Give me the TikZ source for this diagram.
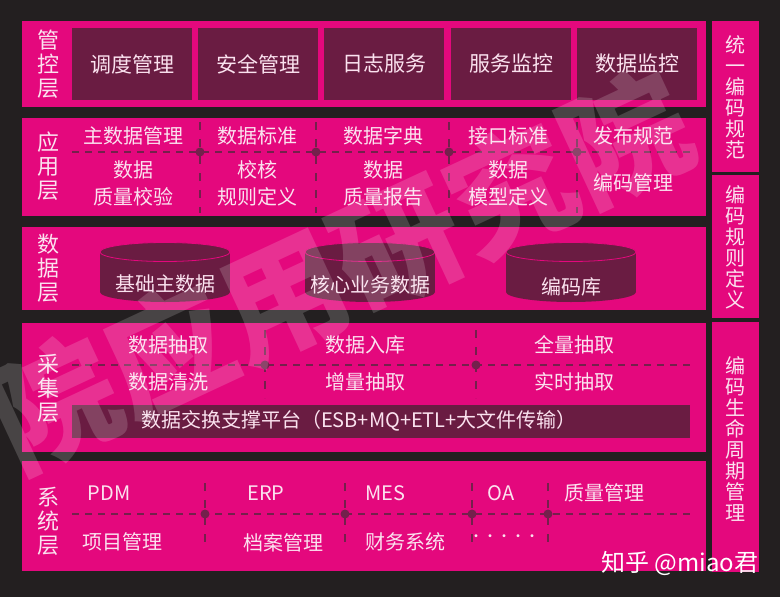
\documentclass[tikz,border=0pt]{standalone}
\usepackage{fontspec}
\setmainfont{Noto Sans CJK SC}
\usetikzlibrary{positioning}
\definecolor{bg}{HTML}{231F20}
\definecolor{pk}{HTML}{E4087D}
\definecolor{mr}{HTML}{6A1C42}
\definecolor{dk}{HTML}{74204C}
\definecolor{tx}{HTML}{FBE2EF}
\newcommand\myfs[2]{\fontsize{#1}{#2}\selectfont}
\begin{document}
\begin{tikzpicture}[x=1pt,y=-1pt,
  band/.style={fill=pk, draw=none, inner sep=0pt, outer sep=0pt, anchor=north west},
  ibox/.style={fill=mr, draw=none, inner sep=0pt, outer sep=0pt, anchor=north west,
    minimum width=120pt, minimum height=72pt, text=tx, font=\myfs{21}{24}},
  vlbl/.style={text=tx, align=center, inner sep=0pt, font=\myfs{22}{24}},
  rlbl/.style={text=tx, align=center, inner sep=0pt, font=\myfs{20}{21}},
  lbl/.style={text=tx, align=center, inner sep=0pt, font=\myfs{20}{27}},
  dline/.style={draw=dk, line width=1.6pt, dash pattern=on 7pt off 6pt},
  vline/.style={draw=dk, line width=1.4pt, dash pattern=on 8pt off 9pt},
  dotn/.style={circle, fill=dk, draw=none, inner sep=0pt, minimum size=9pt},
  cylbody/.style={fill=mr, draw=none},
  cyltop/.style={fill=mr, draw=pk, line width=0.8pt}]
\fill[bg] (0,0) rectangle (780,597);
\useasboundingbox (0,0) rectangle (780,597);

% ---------- bands ----------
\node[band, minimum width=684pt, minimum height=86pt]  (b1) at (22,21)  {};
\node[band, minimum width=684pt, minimum height=98pt]  (b2) at (22,118) {};
\node[band, minimum width=684pt, minimum height=83pt]  (b3) at (22,227) {};
\node[band, minimum width=684pt, minimum height=129pt] (b4) at (22,323) {};
\node[band, minimum width=684pt, minimum height=110pt] (b5) at (22,461) {};
\node[band, minimum width=47pt, minimum height=151pt] (r1) at (712,21)  {};
\node[band, minimum width=47pt, minimum height=143pt] (r2) at (712,175) {};
\node[band, minimum width=47pt, minimum height=250pt] (r3) at (712,322) {};

% ---------- left labels ----------
\node[vlbl] (l1) at (48,64)  {管\\控\\层};
\node[vlbl] (l2) at (48,166) {应\\用\\层};
\node[vlbl] (l3) at (48,268) {数\\据\\层};
\node[vlbl] (l4) at (48,388) {采\\集\\层};
\node[vlbl] (l5) at (48,521) {系\\统\\层};

% ---------- right labels ----------
\node[rlbl] (rt1) at (735,97)  {统\\一\\编\\码\\规\\范};
\node[rlbl] (rt2) at (735,247) {编\\码\\规\\则\\定\\义};
\node[rlbl] (rt3) at (735,439) {编\\码\\生\\命\\周\\期\\管\\理};

% ---------- control layer ----------
\node[ibox] (c1) at (72,28)  {调度管理};
\node[ibox] (c2) at (198,28) {安全管理};
\node[ibox] (c3) at (324,28) {日志服务};
\node[ibox] (c4) at (451,28) {服务监控};
\node[ibox] (c5) at (577,28) {数据监控};

% ---------- application layer ----------
\coordinate (h2l) at (72,152);
\coordinate (h2r) at (690,152);
\draw[dline] (h2l) -- (h2r);
\foreach \x/\n in {200/1,316/2,449/3,577/4}{
  \coordinate (v2t\n) at (\x,122);
  \coordinate (v2b\n) at (\x,213);
  \draw[vline] (v2t\n) -- (v2b\n);
  \node[dotn] (d2\n) at (\x,152) {};
}
\node[lbl] (a1) at (133,136) {主数据管理};
\node[lbl] (a2) at (257,136) {数据标准};
\node[lbl] (a3) at (383,136) {数据字典};
\node[lbl] (a4) at (508,136) {接口标准};
\node[lbl] (a5) at (633,136) {发布规范};
\node[lbl] (a6) at (133,183) {数据\\质量校验};
\node[lbl] (a7) at (257,183) {校核\\规则定义};
\node[lbl] (a8) at (383,183) {数据\\质量报告};
\node[lbl] (a9) at (508,183) {数据\\模型定义};
\node[lbl] (a10) at (633,183) {编码管理};

% ---------- data layer ----------
\foreach \cx/\n in {165/1,370/2,571/3}{
  \fill[cylbody] (\cx-65,252) rectangle (\cx+65,292);
  \fill[cylbody] (\cx,292) ellipse [x radius=65, y radius=10];
  \filldraw[cyltop] (\cx,252) ellipse [x radius=65, y radius=9.5];
}
\node[lbl] (db1) at (165,284) {基础主数据};
\node[lbl] (db2) at (370,285) {核心业务数据};
\node[lbl] (db3) at (571,287) {编码库};

% ---------- collection layer ----------
\coordinate (h4l) at (72,365);
\coordinate (h4r) at (690,365);
\draw[dline] (h4l) -- (h4r);
\foreach \x/\n in {265/1,476/2}{
  \coordinate (v4t\n) at (\x,330);
  \coordinate (v4b\n) at (\x,398);
  \draw[vline] (v4t\n) -- (v4b\n);
  \node[dotn] (d4\n) at (\x,365) {};
}
\node[lbl] (g1) at (168,345) {数据抽取};
\node[lbl] (g2) at (365,345) {数据入库};
\node[lbl] (g3) at (574,345) {全量抽取};
\node[lbl] (g4) at (168,382) {数据清洗};
\node[lbl] (g5) at (365,382) {增量抽取};
\node[lbl] (g6) at (574,382) {实时抽取};
\node[fill=mr, inner sep=0pt, anchor=north west, minimum width=618pt, minimum height=33pt] (bar) at (72,405) {};
\node[lbl] (bart) at (359,421) {数据交换支撑平台（ESB+MQ+ETL+大文件传输）};

% ---------- system layer ----------
\coordinate (h5l) at (72,514);
\coordinate (h5r) at (690,514);
\draw[dline] (h5l) -- (h5r);
\foreach \x/\n in {205/1,345/2,472/3,548/4}{
  \coordinate (v5t\n) at (\x,483);
  \coordinate (v5b\n) at (\x,550);
  \draw[vline] (v5t\n) -- (v5b\n);
  \node[dotn] (d5\n) at (\x,514) {};
}
\node[lbl] (s1) at (109,493) {PDM};
\node[lbl] (s2) at (266,493) {ERP};
\node[lbl] (s3) at (385,493) {MES};
\node[lbl] (s4) at (501,493) {OA};
\node[lbl] (s5) at (604,493) {质量管理};
\node[lbl] (s6) at (122,542) {项目管理};
\node[lbl] (s7) at (283,543) {档案管理};
\node[lbl] (s8) at (405,542) {财务系统};
\node[lbl, font=\myfs{14}{14}] (s9) at (504,538) {·····};

% ---------- watermarks ----------
\begin{scope}
\clip (0,0) rectangle (780,597);
\node[text=white, opacity=0.17, rotate=25, inner sep=0pt, font=\bfseries\myfs{126}{126}] (wm) at (340,270) {院应用研究院};
\end{scope}
\node[text=white, inner sep=0pt, font=\myfs{24}{24}] (zh) at (680,563) {知乎 @miao君};
\end{tikzpicture}
\end{document}
